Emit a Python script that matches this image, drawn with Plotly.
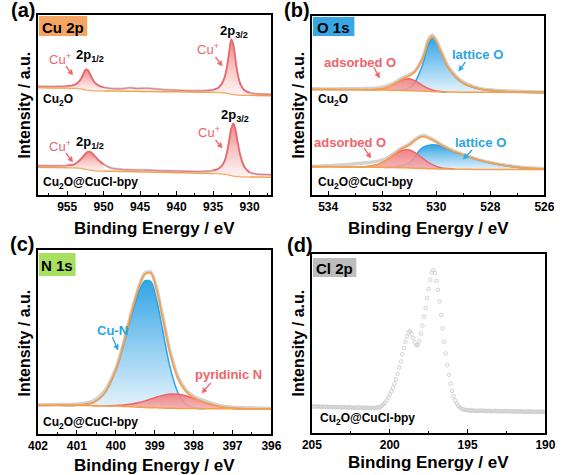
import math
import plotly.graph_objects as go

W, H = 567, 475

# ---------------- (a) Cu 2p ----------------
CU_X = [959, 957, 955, 954, 953.5, 953.1, 952.8, 952.5, 952.2, 951.9, 951.6, 951.2, 950.7, 950, 949,
        947.5, 946.5, 945.5, 944, 942, 940, 938, 936, 935, 934.3, 933.8, 933.4, 933.1, 932.8, 932.5,
        932.2, 931.9, 931.6, 931.2, 930.7, 930, 929, 927]
CU2O_RAW = [60.4, 60.3, 60.5, 61.2, 62.5, 64.5, 67, 69.5, 69.5, 67.5, 64.8, 62.3, 60.8, 59.8, 59.2,
            59.0, 59.6, 59.2, 59.3, 58.6, 58.2, 57.9, 58.0, 58.4, 59.5, 61.8, 65.5, 71, 79, 86.5,
            83, 74, 66.5, 61, 58.2, 56.8, 56.2, 55.9]
CU2O_BG = [59.6, 59.5, 59.4, 59.3, 59.2, 59.0, 58.8, 58.5, 58.3, 58.1, 58.0, 57.9, 57.9, 57.8, 57.8,
           57.7, 57.7, 57.6, 57.5, 57.4, 57.3, 57.2, 57.1, 57.1, 57.0, 56.9, 56.8, 56.6, 56.4, 56.1,
           55.9, 55.7, 55.6, 55.5, 55.4, 55.4, 55.3, 55.2]
CUCL_RAW = [16.3, 16.2, 16.4, 17.0, 18.5, 20.0, 21.3, 22.9, 23.9, 24.0, 23.2, 21.5, 19.3, 17.0, 15.0,
            14.2, 14.0, 13.9, 13.8, 13.5, 13.3, 13.1, 13.2, 13.6, 14.5, 16.2, 19.0, 23.5, 30, 37,
            39.7, 35.5, 28.5, 21, 15.5, 12.6, 11.6, 11.3]
CUCL_BG = [15.4, 15.3, 15.2, 15.1, 15.0, 14.8, 14.6, 14.4, 14.1, 13.9, 13.7, 13.5, 13.4, 13.3, 13.2,
           13.1, 13.0, 12.9, 12.8, 12.6, 12.4, 12.2, 12.1, 12.0, 11.9, 11.8, 11.6, 11.4, 11.1, 10.8,
           10.6, 10.4, 10.3, 10.2, 10.1, 10.0, 10.0, 9.9]
CU_PEAK_WINDOWS = [(955.5, 949.5), (935.5, 929.5)]

# ---------------- (b) O 1s ----------------
O_X = [534.6, 534, 533.5, 533, 532.6, 532.2, 531.9, 531.6, 531.3, 531.0, 530.8, 530.6, 530.45, 530.3,
       530.15, 530.0, 529.8, 529.6, 529.3, 529.0, 528.6, 528.2, 527.5, 526.8, 526]
O1_BG = [59.0, 59.0, 58.9, 58.9, 58.8, 58.7, 58.6, 58.5, 58.4, 58.3, 58.2, 58.1, 58.0, 57.9, 57.8,
         57.7, 57.6, 57.5, 57.5, 57.4, 57.4, 57.4, 57.4, 57.3, 57.3]
O1_ADS = [59.0, 59.0, 58.9, 58.9, 58.82, 58.95, 59.7, 61.6, 64.1, 64.9, 63.9, 62.1, 60.7, 59.55, 58.7,
          58.1, 57.74, 57.5, 57.5, 57.4, 57.4, 57.4, 57.4, 57.3, 57.3]
O1_LAT = [59.0, 59.0, 58.9, 58.9, 58.8, 58.7, 58.6, 58.5, 58.7, 59.8, 62.7, 69.1, 75.5, 83.9, 87.5,
          85.2, 78.6, 72.0, 66.0, 62.4, 59.9, 58.6, 57.8, 57.4, 57.3]
O1_FIT = [59.0, 59.0, 58.9, 58.9, 58.8, 58.95, 59.7, 61.6, 64.4, 66.6, 68.8, 73.3, 78.4, 85.8, 88.6,
          85.8, 78.8, 72.1, 66.1, 62.5, 60.0, 58.7, 57.9, 57.5, 57.4]
O1_RAW = [59.3, 59.2, 59.3, 59.4, 59.5, 59.8, 60.5, 62.3, 65.0, 67.2, 69.0, 73.5, 78.8, 86.5, 89.2,
          86.2, 79.5, 72.8, 66.8, 63.0, 60.4, 59.0, 58.2, 57.8, 57.6]
O2_BG = [15.8, 15.8, 15.7, 15.7, 15.6, 15.5, 15.4, 15.3, 15.2, 15.1, 15.0, 14.9, 14.8, 14.7, 14.7,
         14.6, 14.5, 14.5, 14.4, 14.4, 14.3, 14.3, 14.3, 14.2, 14.2]
O2_ADS = [15.8, 15.8, 15.7, 15.7, 15.85, 16.9, 18.9, 22.05, 24.7, 25.1, 23.8, 21.65, 19.9, 18.2, 17.0,
          16.0, 15.1, 14.75, 14.45, 14.4, 14.3, 14.3, 14.3, 14.2, 14.2]
O2_LAT = [15.8, 15.8, 15.7, 15.7, 15.6, 15.5, 15.4, 15.6, 16.2, 17.9, 21.4, 25.2, 27.0, 27.7, 28.1,
          27.9, 27.0, 25.8, 23.9, 22.4, 20.3, 18.6, 16.5, 15.1, 14.5]
O2_FIT = [15.8, 15.8, 15.7, 15.7, 15.85, 16.9, 18.9, 22.35, 25.7, 27.9, 30.4, 32.3, 32.6, 31.8, 30.8,
          29.5, 27.7, 26.1, 24.0, 22.4, 20.3, 18.6, 16.5, 15.1, 14.5]
O2_RAW = [16.0, 16.3, 16.8, 17.4, 18.0, 18.8, 20.0, 22.8, 26.0, 28.4, 30.8, 32.8, 33.2, 32.4, 31.3,
          29.9, 28.0, 26.4, 24.2, 22.6, 20.5, 18.8, 16.8, 15.4, 14.8]

# ---------------- (c) N 1s ----------------
N_X = [402, 401.5, 401, 400.6, 400.3, 400.0, 399.8, 399.6, 399.4, 399.25, 399.1, 398.95, 398.8, 398.6,
       398.4, 398.2, 398.0, 397.7, 397.4, 397.0, 396.5, 396]
N_BG = [15.6, 15.6, 15.5, 15.4, 15.3, 15.2, 15.0, 14.8, 14.6, 14.4, 14.3, 14.2, 14.1, 14.0, 13.9,
        13.85, 13.8, 13.75, 13.7, 13.7, 13.6, 13.6]
N_CUN = [15.6, 15.6, 15.64, 16.9, 21.8, 34.5, 48.3, 64.2, 77.8, 83.3, 82.8, 72.8, 56.8, 35.8, 22.3,
         16.25, 14.3, 13.75, 13.7, 13.7, 13.6, 13.6]
N_PYR = [15.6, 15.6, 15.5, 15.42, 15.39, 15.54, 15.74, 16.25, 17.1, 18.0, 19.0, 20.1, 21.0, 21.7,
         21.6, 20.75, 19.3, 16.95, 15.15, 14.04, 13.63, 13.6]
N_FIT = [15.6, 15.6, 15.64, 16.9, 21.9, 34.8, 49.0, 65.7, 80.3, 86.9, 87.5, 78.7, 63.7, 43.5, 30.0,
         23.2, 19.8, 17.0, 15.2, 14.0, 13.65, 13.6]
N_RAW = [15.8, 16.0, 16.3, 17.8, 23.0, 35.5, 49.5, 66.0, 80.5, 87.5, 88.0, 79.0, 64.5, 44.5, 31.0,
         24.0, 20.5, 17.8, 15.8, 14.6, 14.2, 13.9]

# ---------------- (d) Cl 2p (0.1 eV steps, 205 -> 190) ----------------
CL_X = [round(205 - 0.1 * i, 1) for i in range(151)]
CL_Y = [14.9, 14.7, 14.8, 14.6, 14.9, 14.7, 14.5, 14.8, 14.6, 14.7,
        14.5, 14.6, 14.4, 14.7, 14.5, 14.3, 14.6, 14.4, 14.5, 14.2,
        14.4, 14.5, 14.3, 14.1, 14.4, 14.2, 14.3, 14.0, 14.2, 14.3,
        14.1, 14.2, 13.9, 14.1, 14.2, 14.0, 14.1, 13.9, 14.0, 14.1,
        14.0, 14.1, 14.2, 14.3,
        14.6, 15.2, 16.0, 17.0, 18.3, 19.8, 21.5,
        23.3, 25.2, 27.5, 30.0, 33.0, 36.5, 40.0, 44.0, 47.5, 51.0,
        54.0, 56.3, 56.8, 55.5, 53.0, 50.5, 49.0, 49.2, 51.5, 55.5,
        60.0, 65.0, 70.0, 75.5, 80.5, 85.5, 89.5, 91.0, 89.5, 85.0,
        80.0, 73.5, 66.0, 58.5, 51.0, 44.5, 38.0, 32.5, 27.5, 23.5,
        20.5, 18.2, 16.5, 15.2, 14.2, 13.6, 13.2, 13.0, 12.8, 12.7,
        12.6, 12.5, 12.6, 12.4, 12.5, 12.3, 12.5, 12.4, 12.6, 12.3,
        12.4, 12.2, 12.4, 12.3, 12.1, 12.3, 12.2, 12.4, 12.1, 12.2,
        12.3, 12.0, 12.2, 12.1, 12.3, 12.0, 12.1, 12.2, 11.9, 12.1,
        12.0, 12.2, 11.9, 12.0, 12.1, 11.8, 12.0, 11.9, 12.1, 11.8,
        12.0, 11.9, 11.7, 12.0, 11.8, 11.9, 12.0, 11.7, 11.9, 11.8]

# ---------------- styling ----------------
FONT = "Arial, Liberation Sans, sans-serif"
RED = "#F0646A"
BLUE = "#2AA5E5"
ORANGE = "#F6A04D"
GRAY = "#D2D2D2"
RED_SCALE_A = [[0, "rgba(252,232,232,0.55)"], [1, "rgba(240,110,110,0.85)"]]
RED_SCALE = [[0, "rgba(246,170,170,0.85)"], [1, "rgba(240,120,120,0.9)"]]
BLUE_SCALE = [[0, "rgba(225,241,251,0.9)"], [1, "rgba(40,160,228,0.95)"]]

fig = go.Figure()


def line(x, y, color, width, xa, ya):
    fig.add_trace(go.Scatter(x=x, y=y, mode="lines", xaxis=xa, yaxis=ya, hoverinfo="skip",
                             line=dict(color=color, width=width, shape="spline", smoothing=0.8),
                             showlegend=False))


def comp(x, c, bg, color, scale, xa, ya, idx=None):
    if idx is None:
        idx = [i for i in range(len(x)) if c[i] - bg[i] > 0.05]
        idx = list(range(max(idx[0] - 1, 0), min(idx[-1] + 1, len(x) - 1) + 1))
    xs = [x[i] for i in idx]
    fig.add_trace(go.Scatter(x=xs, y=[bg[i] for i in idx], mode="lines", xaxis=xa, yaxis=ya,
                             line=dict(width=0, shape="spline", smoothing=0.8),
                             hoverinfo="skip", showlegend=False))
    fig.add_trace(go.Scatter(x=xs, y=[c[i] for i in idx], mode="lines", xaxis=xa, yaxis=ya,
                             line=dict(color=color, width=1.5, shape="spline", smoothing=0.8),
                             fill="tonexty", fillgradient=dict(type="vertical", colorscale=scale),
                             hoverinfo="skip", showlegend=False))


# (a)
for raw, bg in [(CU2O_RAW, CU2O_BG), (CUCL_RAW, CUCL_BG)]:
    line(CU_X, raw, GRAY, 2.5, "x", "y")
    line(CU_X, bg, ORANGE, 1.5, "x", "y")
    for lo, hi in CU_PEAK_WINDOWS:
        idx = [i for i, v in enumerate(CU_X) if hi <= v <= lo]
        comp(CU_X, raw, bg, RED, RED_SCALE_A, "x", "y", idx)
    line(CU_X, raw, "rgba(240,100,106,0.8)", 1.1, "x", "y")

# (b)
for raw, bg, ads, lat, fit in [(O1_RAW, O1_BG, O1_ADS, O1_LAT, O1_FIT),
                               (O2_RAW, O2_BG, O2_ADS, O2_LAT, O2_FIT)]:
    line(O_X, raw, GRAY, 3.5, "x2", "y2")
    comp(O_X, lat, bg, BLUE, BLUE_SCALE, "x2", "y2")
    comp(O_X, ads, bg, RED, RED_SCALE, "x2", "y2")
    line(O_X, bg, ORANGE, 1.5, "x2", "y2")
    line(O_X, fit, ORANGE, 1.8, "x2", "y2")

# (c)
line(N_X, N_RAW, GRAY, 3.5, "x3", "y3")
comp(N_X, N_CUN, N_BG, BLUE, BLUE_SCALE, "x3", "y3")
comp(N_X, N_PYR, N_BG, RED, RED_SCALE, "x3", "y3")
line(N_X, N_BG, ORANGE, 1.5, "x3", "y3")
line(N_X, N_FIT, ORANGE, 1.8, "x3", "y3")

# (d)
fig.add_trace(go.Scatter(x=CL_X, y=CL_Y, mode="markers", xaxis="x4", yaxis="y4", showlegend=False,
                         marker=dict(symbol="circle-open", size=3.5, color="#CACACA",
                                     line=dict(width=0.9, color="#CACACA"))))


def xd(a, b):
    return [a / W, b / W]


def yd(top, bottom):
    return [1 - bottom / H, 1 - top / H]


axis_common = dict(showline=True, mirror=True, linecolor="black", linewidth=1.6, showgrid=False,
                   zeroline=False, ticks="inside", ticklen=4, tickwidth=1.3, tickcolor="black",
                   tickfont=dict(family=FONT, size=12, color="black", weight="bold"))
y_common = dict(showline=True, mirror=True, linecolor="black", linewidth=1.6, showgrid=False,
                zeroline=False, showticklabels=False, ticks="", range=[0, 100], fixedrange=True)

fig.update_layout(
    xaxis=dict(domain=xd(29, 271), range=[959, 927], dtick=5, tick0=955, anchor="y",
               minor=dict(ticks="inside", ticklen=2, dtick=2.5, tick0=955, tickcolor="black"), **axis_common),
    yaxis=dict(domain=yd(15, 195), anchor="x", **y_common),
    xaxis2=dict(domain=xd(313, 554), range=[534.6, 526], dtick=2, tick0=526, anchor="y2",
                minor=dict(ticks="inside", ticklen=2, dtick=1, tick0=526, tickcolor="black"), **axis_common),
    yaxis2=dict(domain=yd(16, 195), anchor="x2", **y_common),
    xaxis3=dict(domain=xd(29, 271), range=[402, 396], dtick=1, tick0=396, anchor="y3",
                minor=dict(ticks="inside", ticklen=2, dtick=0.5, tick0=396, tickcolor="black"), **axis_common),
    yaxis3=dict(domain=yd(250, 434), anchor="x3", **y_common),
    xaxis4=dict(domain=xd(313, 555), range=[205, 190], dtick=5, tick0=190, anchor="y4",
                minor=dict(ticks="inside", ticklen=2, dtick=2.5, tick0=190, tickcolor="black"), **axis_common),
    yaxis4=dict(domain=yd(254, 433), anchor="x4", **y_common),
    width=W, height=H, margin=dict(l=0, r=0, t=0, b=0),
    paper_bgcolor="white", plot_bgcolor="white", showlegend=False,
)

ann = []
shapes = []


def txt(x, y, s, size=13, color="black", xanchor="center", angle=0, bold=True):
    ann.append(dict(x=x / W, y=1 - y / H, xref="paper", yref="paper", text=s, showarrow=False,
                    xanchor=xanchor, yanchor="middle", textangle=angle,
                    font=dict(family=FONT, size=size, color=color, weight="bold" if bold else "normal")))


def arrow(tx, ty, hx, hy, color):
    dx, dy = hx - tx, hy - ty
    L = math.hypot(dx, dy)
    ux, uy = dx / L, dy / L
    nx, ny = -uy, ux
    bx, by = hx - ux * 5, hy - uy * 5
    shapes.append(dict(type="line", xref="paper", yref="paper", x0=tx / W, y0=1 - ty / H,
                       x1=bx / W, y1=1 - by / H, line=dict(color=color, width=1.3)))
    pts = [(hx, hy), (bx + nx * 2.6, by + ny * 2.6), (bx - nx * 2.6, by - ny * 2.6)]
    path = "M " + " L ".join(f"{px / W:.5f},{1 - py / H:.5f}" for px, py in pts) + " Z"
    shapes.append(dict(type="path", xref="paper", yref="paper", path=path, fillcolor=color,
                       line=dict(color=color, width=0.5)))


def box(x0, y0, x1, y1, color, label):
    shapes.append(dict(type="rect", xref="paper", yref="paper", x0=x0 / W, x1=x1 / W,
                       y0=1 - y1 / H, y1=1 - y0 / H, fillcolor=color, line=dict(width=0), layer="above"))
    txt((x0 + x1) / 2, (y0 + y1) / 2 + 1, label, size=15)


# panel letters
txt(13, 10, "(a)", 20)
txt(298, 10, "(b)", 20)
txt(12, 244, "(c)", 20)
txt(301, 245, "(d)", 20)

# axis titles
for cx, cy in [(150, 228), (434, 228), (150, 465), (434, 462)]:
    txt(cx, cy, "Binding Energy / eV", 17)
for cx, cy in [(15, 105), (299, 105), (15, 343), (299, 343)]:
    txt(cx, cy, "Intensity / a.u.", 16, angle=-90)

# boxes
box(30, 16, 80, 36, "#F5A561", "Cu 2p")
box(314, 17, 357, 36, "#37A8E4", "O 1s")
box(30, 253, 68, 276, "#A6E05E", "N 1s")
box(314, 258, 359, 277, "#BDBDBD", "Cl 2p")

# (a) labels
txt(83, 55, "2p<sub>1/2</sub>", 13)
txt(232, 32, "2p<sub>3/2</sub>", 13)
txt(83, 142, "2p<sub>1/2</sub>", 13)
txt(233, 116, "2p<sub>3/2</sub>", 13)
txt(52, 59, "Cu<sup>+</sup>", 13, RED, bold=False)
txt(205, 49, "Cu<sup>+</sup>", 13, RED, bold=False)
txt(52, 146, "Cu<sup>+</sup>", 13, RED, bold=False)
txt(206, 132, "Cu<sup>+</sup>", 13, RED, bold=False)
arrow(58, 66, 65, 75, RED)
arrow(213, 57, 220, 66, RED)
arrow(58, 153, 65, 162, RED)
arrow(213, 140, 220, 148, RED)
txt(32, 100, "Cu<sub>2</sub>O", 12, xanchor="left")
txt(32, 183, "Cu<sub>2</sub>O@CuCl-bpy", 12, xanchor="left")

# (b) labels
txt(363, 62, "adsorbed O", 13, RED)
arrow(377, 67, 383, 78, RED)
txt(485, 54, "lattice O", 13, BLUE)
arrow(472, 62, 465, 71, BLUE)
txt(352, 142, "adsorbed O", 13, RED)
arrow(367, 148, 374, 158, RED)
txt(488, 142, "lattice O", 13, BLUE)
arrow(479, 150, 470, 159, BLUE)
txt(317, 100, "Cu<sub>2</sub>O", 12, xanchor="left")
txt(317, 183, "Cu<sub>2</sub>O@CuCl-bpy", 12, xanchor="left")

# (c) labels
txt(106, 330, "Cu-N", 13, BLUE)
arrow(106, 337, 112, 350, BLUE)
txt(227, 374, "pyridinic N", 13, RED)
arrow(208, 383, 199, 393, RED)
txt(32, 423, "Cu<sub>2</sub>O@CuCl-bpy", 12, xanchor="left")

# (d) labels
txt(319, 419, "Cu<sub>2</sub>O@CuCl-bpy", 12, xanchor="left")

fig.update_layout(annotations=ann, shapes=shapes)
fig.write_html("out.html", config={"displayModeBar": False},
               post_script="document.body.style.margin='0';document.body.style.overflow='hidden';")
